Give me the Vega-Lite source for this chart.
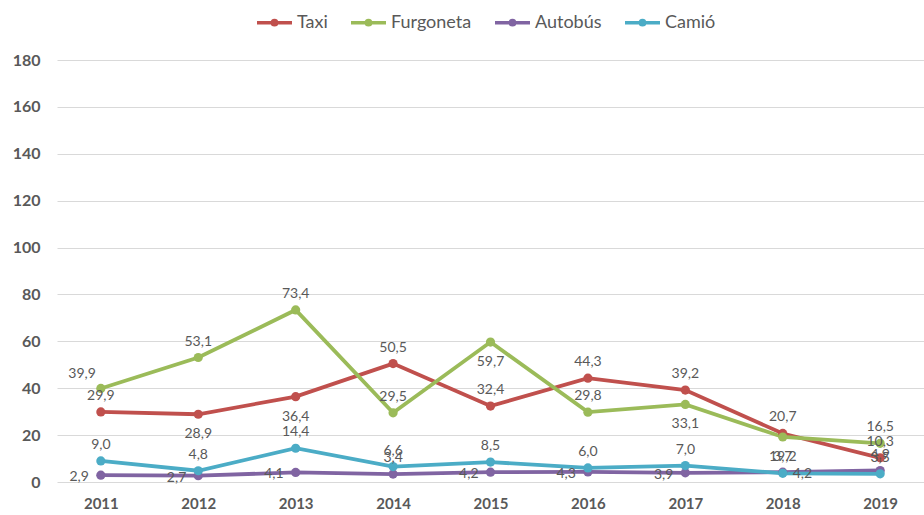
{
  "$schema": "https://vega.github.io/schema/vega-lite/v6.json",
  "width": 867,
  "height": 422,
  "autosize": {"type": "none"},
  "padding": {"left": 57, "top": 60, "right": 0, "bottom": 33},
  "background": "white",
  "config": {
    "view": {"stroke": null},
    "font": "Lato",
    "locale": {"number": {"decimal": ",", "thousands": ".", "grouping": [3], "currency": ["", " €"]}},
    "axis": {"labelFont": "Lato", "labelColor": "#595959", "labelFontWeight": "bold", "labelFontSize": 15, "ticks": false, "domain": false, "title": null}
  },
  "data": {
    "values": [
      {"year": "2011", "serie": "Taxi", "v": 29.9},
      {"year": "2012", "serie": "Taxi", "v": 28.9},
      {"year": "2013", "serie": "Taxi", "v": 36.4},
      {"year": "2014", "serie": "Taxi", "v": 50.5},
      {"year": "2015", "serie": "Taxi", "v": 32.4},
      {"year": "2016", "serie": "Taxi", "v": 44.3},
      {"year": "2017", "serie": "Taxi", "v": 39.2},
      {"year": "2018", "serie": "Taxi", "v": 20.7},
      {"year": "2019", "serie": "Taxi", "v": 10.3},
      {"year": "2011", "serie": "Furgoneta", "v": 39.9},
      {"year": "2012", "serie": "Furgoneta", "v": 53.1},
      {"year": "2013", "serie": "Furgoneta", "v": 73.4},
      {"year": "2014", "serie": "Furgoneta", "v": 29.5},
      {"year": "2015", "serie": "Furgoneta", "v": 59.7},
      {"year": "2016", "serie": "Furgoneta", "v": 29.8},
      {"year": "2017", "serie": "Furgoneta", "v": 33.1},
      {"year": "2018", "serie": "Furgoneta", "v": 19.2},
      {"year": "2019", "serie": "Furgoneta", "v": 16.5},
      {"year": "2011", "serie": "Autobús", "v": 2.9},
      {"year": "2012", "serie": "Autobús", "v": 2.7},
      {"year": "2013", "serie": "Autobús", "v": 4.1},
      {"year": "2014", "serie": "Autobús", "v": 3.4},
      {"year": "2015", "serie": "Autobús", "v": 4.2},
      {"year": "2016", "serie": "Autobús", "v": 4.3},
      {"year": "2017", "serie": "Autobús", "v": 3.9},
      {"year": "2018", "serie": "Autobús", "v": 4.2},
      {"year": "2019", "serie": "Autobús", "v": 4.9},
      {"year": "2011", "serie": "Camió", "v": 9.0},
      {"year": "2012", "serie": "Camió", "v": 4.8},
      {"year": "2013", "serie": "Camió", "v": 14.4},
      {"year": "2014", "serie": "Camió", "v": 6.6},
      {"year": "2015", "serie": "Camió", "v": 8.5},
      {"year": "2016", "serie": "Camió", "v": 6.0},
      {"year": "2017", "serie": "Camió", "v": 7.0},
      {"year": "2018", "serie": "Camió", "v": 3.7},
      {"year": "2019", "serie": "Camió", "v": 3.5}
    ]
  },
  "encoding": {
    "x": {"field": "year", "type": "ordinal", "scale": {"type": "point", "padding": 0.45}, "axis": {"labelAngle": 0, "grid": false, "labelPadding": 14}, "sort": null},
    "y": {"field": "v", "type": "quantitative", "scale": {"domain": [0, 180]}, "axis": {"values": [0,20,40,60,80,100,120,140,160,180], "grid": true, "gridColor": "#d9d9d9", "gridWidth": 1, "labelPadding": 17, "labelFontSize": 16}}
  },
  "layer": [
    {
      "mark": {"type": "line", "strokeWidth": 3.8},
      "encoding": {
        "color": {"field": "serie", "type": "nominal", "sort": ["Taxi", "Furgoneta", "Autobús", "Camió"],
          "scale": {"domain": ["Taxi", "Furgoneta", "Autobús", "Camió"], "range": ["#C0504D", "#9BBB59", "#8064A2", "#4BACC6"]},
          "legend": {"title": null, "orient": "none", "direction": "horizontal", "legendX": 198, "legendY": -57,
            "labelFont": "Lato", "labelFontSize": 18, "labelColor": "#595959", "labelOffset": 3, "columnPadding": 16,
            "symbolType": "M-1,0L1,0M-0.12,0A0.12,0.12 0 1,1 0.12,0A0.12,0.12 0 1,1 -0.12,0", "symbolSize": 1225, "symbolStrokeWidth": 3.5}},
        "detail": {"field": "serie"}
      }
    },
    {
      "mark": {"type": "circle", "size": 85, "opacity": 1},
      "encoding": {"color": {"field": "serie", "type": "nominal", "legend": null}}
    },
    {
      "transform": [{"filter": "!(datum.serie=='Autobús' && datum.year!='2014' && datum.year!='2019') && !(datum.serie=='Taxi' && (datum.year=='2012'||datum.year=='2013')) && !(datum.serie=='Furgoneta' && (datum.year=='2011'||datum.year=='2015'||datum.year=='2017'||datum.year=='2018'))"}],
      "mark": {"type": "text", "dy": -16, "fontSize": 14, "color": "#595959", "font": "Lato"},
      "encoding": {"text": {"field": "v", "type": "quantitative", "format": ".1f"}}
    },
    {
      "transform": [{"filter": "(datum.serie=='Taxi' && (datum.year=='2012'||datum.year=='2013')) || (datum.serie=='Furgoneta' && (datum.year=='2015'||datum.year=='2017'||datum.year=='2018'))"}],
      "mark": {"type": "text", "dy": 20, "fontSize": 14, "color": "#595959", "font": "Lato"},
      "encoding": {"text": {"field": "v", "type": "quantitative", "format": ".1f"}}
    },
    {
      "transform": [{"filter": "datum.serie=='Furgoneta' && datum.year=='2011'"}],
      "mark": {"type": "text", "dy": -14, "dx": -5, "align": "right", "fontSize": 14, "color": "#595959", "font": "Lato"},
      "encoding": {"text": {"field": "v", "type": "quantitative", "format": ".1f"}}
    },
    {
      "transform": [{"filter": "datum.serie=='Autobús' && datum.year!='2014' && datum.year!='2019' && datum.year!='2018'"}],
      "mark": {"type": "text", "dx": -12, "dy": 2, "align": "right", "fontSize": 14, "color": "#595959", "font": "Lato"},
      "encoding": {"text": {"field": "v", "type": "quantitative", "format": ".1f"}}
    },
    {
      "transform": [{"filter": "datum.serie=='Autobús' && datum.year=='2018'"}],
      "mark": {"type": "text", "dx": 10, "dy": 2, "align": "left", "fontSize": 14, "color": "#595959", "font": "Lato"},
      "encoding": {"text": {"field": "v", "type": "quantitative", "format": ".1f"}}
    }
  ]
}
